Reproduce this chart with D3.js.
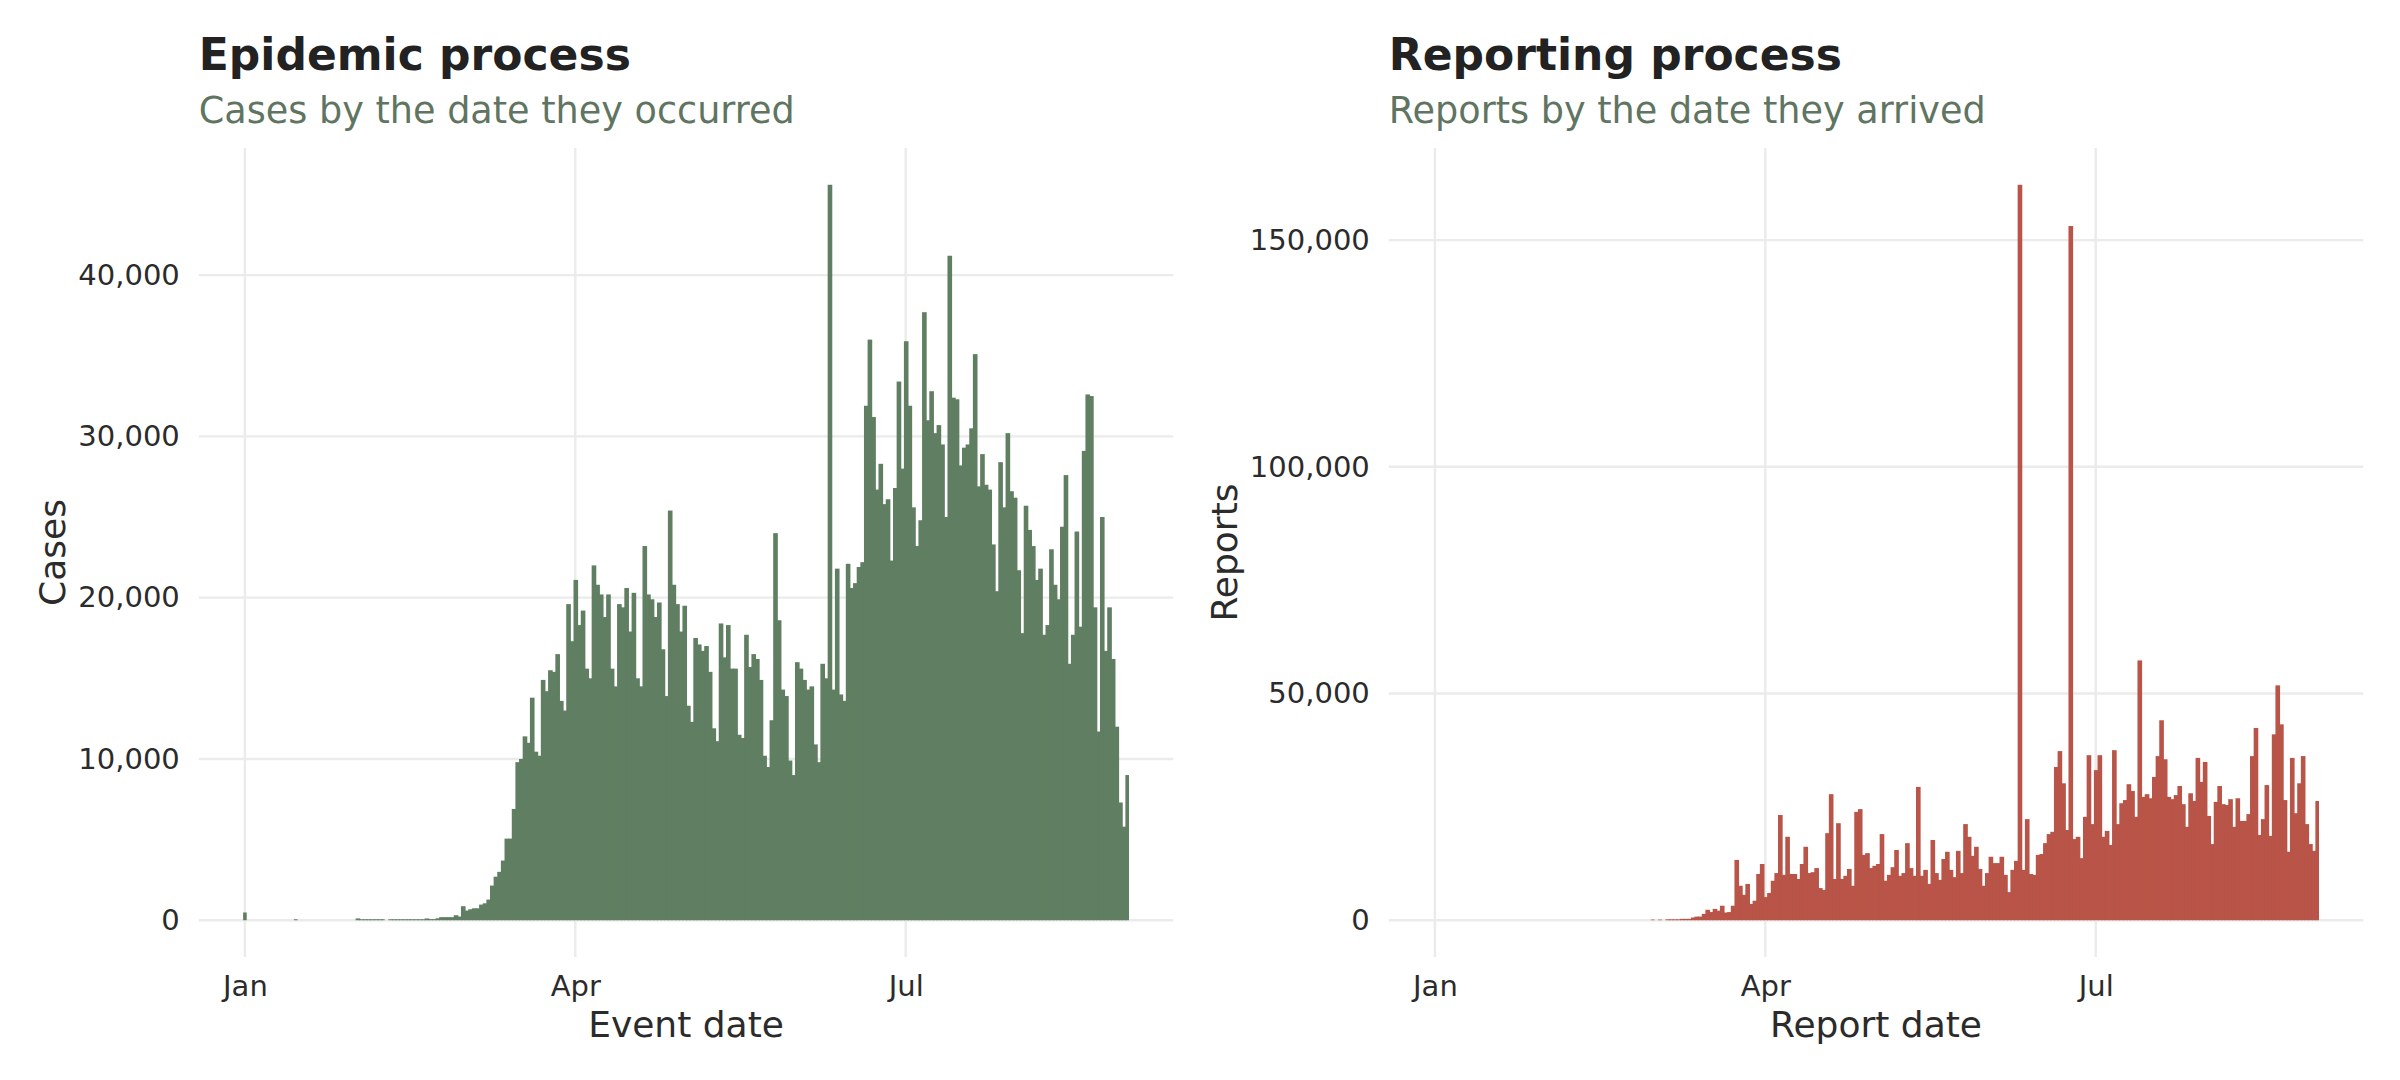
<!DOCTYPE html>
<html>
<head>
<meta charset="utf-8">
<script src="https://cdn.jsdelivr.net/npm/d3@7"></script>
<style>
  html, body { margin: 0; padding: 0; background: #fff; }
  text { font-family: "DejaVu Sans", sans-serif; }
</style>
</head>
<body>
<div id="container"></div>
<script>
// daily counts, 2020
const eventStart = "2020-01-01";
const eventCases = [
  // Jan
  480, 0, 0, 0, 0, 0, 0, 0, 0, 0, 0, 0, 0, 0, 60, 0, 0, 0, 0, 0, 0, 0, 0, 0, 0, 0, 0, 0, 0, 0, 0,
  // Feb
  110, 60, 60, 60, 60, 60, 60, 60, 0, 60, 60, 60, 60, 60, 60, 60, 60, 60, 60, 110, 70, 70, 120, 190, 190, 190, 190, 310, 230,
  // Mar
  870, 600, 680, 740, 740, 970, 1050, 1280, 2150, 2700, 3000, 3700, 5060, 5060, 6900, 9800, 10000, 11400, 11000, 13800,
  10450, 10200, 14900, 14200, 15500, 15400, 16500, 13600, 13000, 19600, 17300,
  // Apr
  21100, 18300, 19200, 15600, 15000, 22000, 20800, 20200, 18800, 20200, 15600, 14500, 19600, 19400, 20600, 17900, 20300,
  15000, 14500, 23200, 20200, 19900, 18800, 19700, 16800, 13900, 25400, 20800, 19600, 17900,
  // May
  19500, 13300, 12300, 17500, 17100, 16700, 17000, 15400, 11900, 11100, 18400, 16300, 18300, 15600, 15600, 11500, 11300,
  17700, 15700, 16500, 16200, 14900, 10200, 9500, 12400, 24000, 18600, 14300, 13900, 9900, 9000,
  // Jun
  16000, 15600, 14900, 14300, 14500, 10900, 9800, 15900, 15000, 45600, 14300, 21800, 14000, 13600, 22100, 20600, 20900,
  21900, 22200, 31900, 36000, 31200, 26700, 28300, 25800, 26100, 22300, 26800, 33400, 28000,
  // Jul
  35900, 31900, 25600, 23200, 24800, 37700, 31000, 32800, 30200, 30700, 29500, 25000, 41200, 32400, 32300, 28200, 29300,
  29500, 30500, 35100, 26900, 28900, 27000, 26700, 23300, 20400, 28400, 25600, 30200, 26600, 26200,
  // Aug
  21700, 17800, 25700, 24200, 23200, 21100, 21800, 17700, 18300, 23000, 20800, 19900, 24400, 27600, 15900, 17700, 24100,
  18200, 29100, 32600, 32500, 19400, 11700, 25000, 16700, 19400, 16200, 12000, 7300, 5800, 9000
];

const reportStart = "2020-03-01";
const reportCounts = [
  // Mar
  150, 0, 150, 0, 200, 200, 200, 200, 300, 300, 300, 600, 800, 800, 1400, 2300, 1800, 2500, 2100, 3200, 1700, 1800, 3200,
  13300, 7600, 5600, 8000, 3600, 4300, 10200, 12400,
  // Apr
  5100, 6000, 8700, 10400, 23200, 10000, 18400, 10200, 10200, 9100, 12400, 16200, 10400, 10600, 11500, 7100, 6700,
  19200, 27800, 9100, 21400, 9100, 9800, 11300, 7600, 23900, 24500, 14400, 14800, 11500,
  // May
  12000, 12400, 19000, 8700, 10000, 11700, 15500, 9800, 10400, 17000, 11500, 9800, 29400, 9800, 11100, 8000, 17700,
  10400, 8900, 13500, 15100, 11100, 9500, 15300, 10400, 21200, 18400, 14200, 16200, 11300, 7600,
  // Jun
  10400, 14000, 12600, 12600, 14000, 10000, 6200, 11100, 13100, 162200, 11100, 22300, 10200, 10000, 14400, 14600, 17000,
  19000, 19500, 33800, 37300, 30200, 19900, 153100, 17900, 18400, 13700, 22800, 36400, 21200,
  // Jul
  33100, 36400, 18400, 19700, 16600, 37500, 21200, 25800, 26500, 30000, 28500, 22800, 57300, 27200, 27800, 26900, 31600,
  36200, 44100, 35500, 27200, 26700, 27600, 29600, 25600, 20600, 28000, 26300, 35800, 30500, 34900,
  // Aug
  23000, 16800, 26100, 29600, 25600, 25400, 26700, 20600, 26900, 21900, 21900, 23400, 36200, 42400, 18800, 22300, 29800,
  18600, 41000, 51800, 43200, 26500, 15100, 35800, 23600, 30200, 36200, 21200, 16800, 15300, 26300
];

const xTickDates = ["2020-01-01", "2020-04-01", "2020-07-01"];
const eventTicks = [0, 10000, 20000, 30000, 40000];
const reportTicks = [0, 50000, 100000, 150000];

const DAY = 864e5;
const parse = d3.utcParse("%Y-%m-%d");

const toSeries = (start, values) => values.map((v, i) => ({
  date: d3.utcDay.offset(parse(start), i),
  value: v
}));

window.onload = () => {
  const W = 2400, H = 1080;
  const top = 148, bottom = 957;
  const panelW = 974.5;

  const svg = d3.select("#container")
    .append("svg")
    .attr("width", W)
    .attr("height", H);

  svg.append("rect").attr("width", W).attr("height", H).attr("fill", "#fff");

  // shared date range, expanded 5% each side like ggplot
  const events = toSeries(eventStart, eventCases);
  const t0 = +events[0].date - DAY / 2;
  const t1 = +events[events.length - 1].date + DAY / 2;
  const pad = (t1 - t0) * 0.05;

  const drawPanel = (opt) => {
    const g = svg.append("g");
    const left = opt.left, right = opt.left + panelW;

    const x = d3.scaleUtc()
      .domain([t0 - pad, t1 + pad])
      .range([left, right]);

    const ymax = d3.max(opt.data, d => d.value);
    const y = d3.scaleLinear()
      .domain([-ymax * 0.05, ymax * 1.05])
      .range([bottom, top]);

    // grid
    g.append("g").selectAll("line")
      .data(opt.yTicks)
      .enter().append("line")
      .attr("x1", left).attr("x2", right)
      .attr("y1", d => y(d)).attr("y2", d => y(d))
      .attr("stroke", "#ebebeb").attr("stroke-width", 2.4);

    g.append("g").selectAll("line")
      .data(xTickDates.map(parse))
      .enter().append("line")
      .attr("x1", d => x(d)).attr("x2", d => x(d))
      .attr("y1", top).attr("y2", bottom)
      .attr("stroke", "#ebebeb").attr("stroke-width", 2.4);

    // bars, one day wide; a small overlap hides seams between neighbours
    const bars = opt.data.filter(d => d.value > 0);
    g.append("g").selectAll("rect")
      .data(bars)
      .enter().append("rect")
      .attr("x", d => x(+d.date - DAY / 2))
      .attr("width", (d, i) => {
        const w = x(+d.date + DAY / 2) - x(+d.date - DAY / 2);
        const next = bars[i + 1];
        return next && +next.date - +d.date === DAY ? w + 1 : w;
      })
      .attr("y", d => y(d.value))
      .attr("height", d => y(0) - y(d.value))
      .attr("fill", opt.color);

    // axes
    const yAxis = g.append("g")
      .attr("transform", "translate(" + left + ",0)")
      .call(d3.axisLeft(y).tickValues(opt.yTicks).tickFormat(d3.format(",")).tickSize(0).tickPadding(19));
    const xAxis = g.append("g")
      .attr("transform", "translate(0," + bottom + ")")
      .call(d3.axisBottom(x).tickValues(xTickDates.map(parse)).tickFormat(d3.utcFormat("%b")).tickSize(0).tickPadding(18));
    [yAxis, xAxis].forEach(a => {
      a.select(".domain").remove();
      a.selectAll("text")
        .attr("font-family", "DejaVu Sans")
        .attr("font-size", 29)
        .attr("fill", "#2b2b2b");
    });

    // titles
    g.append("text")
      .attr("x", left).attr("y", 70)
      .attr("font-size", 44).attr("font-weight", "bold")
      .attr("fill", "#222")
      .text(opt.title);

    g.append("text")
      .attr("x", left).attr("y", 123)
      .attr("font-size", 36.6)
      .attr("fill", "#5f7561")
      .text(opt.subtitle);

    g.append("text")
      .attr("x", (left + right) / 2).attr("y", 1037)
      .attr("text-anchor", "middle")
      .attr("font-size", 36)
      .attr("fill", "#2b2b2b")
      .text(opt.xTitle);

    g.append("text")
      .attr("transform", "translate(" + opt.yTitleX + "," + (top + bottom) / 2 + ") rotate(-90)")
      .attr("text-anchor", "middle")
      .attr("font-size", 36)
      .attr("fill", "#2b2b2b")
      .text(opt.yTitle);
  };

  drawPanel({
    left: 198.8,
    data: events,
    yTicks: eventTicks,
    color: "#607f62",
    title: "Epidemic process",
    subtitle: "Cases by the date they occurred",
    xTitle: "Event date",
    yTitle: "Cases",
    yTitleX: 65
  });

  drawPanel({
    left: 1388.8,
    data: toSeries(reportStart, reportCounts),
    yTicks: reportTicks,
    color: "#b95448",
    title: "Reporting process",
    subtitle: "Reports by the date they arrived",
    xTitle: "Report date",
    yTitle: "Reports",
    yTitleX: 1237
  });
};
</script>
</body>
</html>
